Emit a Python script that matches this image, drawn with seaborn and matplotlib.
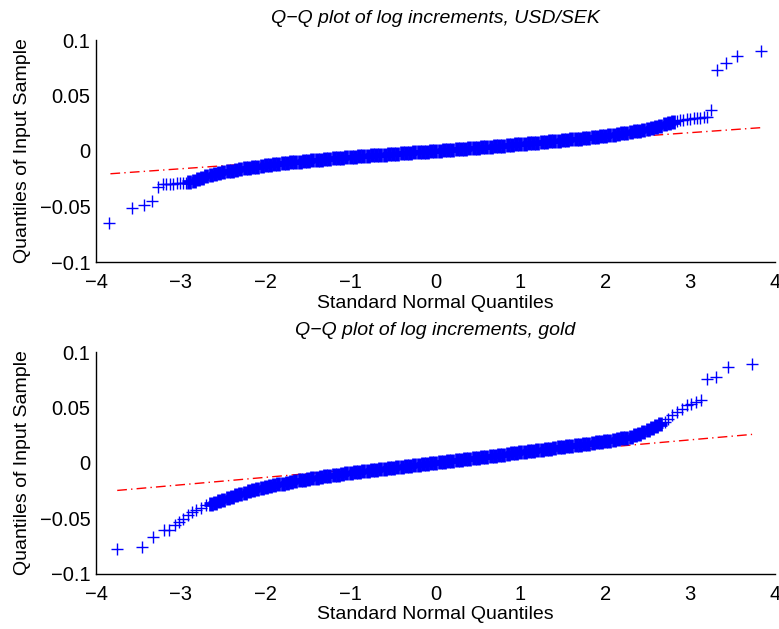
import matplotlib
matplotlib.use("Agg")
import matplotlib.pyplot as plt
import seaborn as sns

# ---------------- data ----------------
# USD/SEK: central dense band of sample quantiles vs. standard normal quantiles
usd_core_x = [-2.90, -2.85, -2.80, -2.75, -2.70, -2.65, -2.60, -2.55, -2.50, -2.45,
              -2.40, -2.35, -2.30, -2.25, -2.20, -2.15, -2.10, -2.05, -2.00, -1.95,
              -1.90, -1.85, -1.80, -1.75, -1.70, -1.65, -1.60, -1.55, -1.50, -1.45,
              -1.40, -1.35, -1.30, -1.25, -1.20, -1.15, -1.10, -1.05, -1.00, -0.95,
              -0.90, -0.85, -0.80, -0.75, -0.70, -0.65, -0.60, -0.55, -0.50, -0.45,
              -0.40, -0.35, -0.30, -0.25, -0.20, -0.15, -0.10, -0.05, 0.00, 0.05,
              0.10, 0.15, 0.20, 0.25, 0.30, 0.35, 0.40, 0.45, 0.50, 0.55,
              0.60, 0.65, 0.70, 0.75, 0.80, 0.85, 0.90, 0.95, 1.00, 1.05,
              1.10, 1.15, 1.20, 1.25, 1.30, 1.35, 1.40, 1.45, 1.50, 1.55,
              1.60, 1.65, 1.70, 1.75, 1.80, 1.85, 1.90, 1.95, 2.00, 2.05,
              2.10, 2.15, 2.20, 2.25, 2.30, 2.35, 2.40, 2.45, 2.50, 2.55,
              2.60, 2.65, 2.70, 2.75, 2.80]
usd_core_y = [-0.0280, -0.0267, -0.0253, -0.0240, -0.0229, -0.0219, -0.0210, -0.0201, -0.0193, -0.0184,
              -0.0176, -0.0169, -0.0162, -0.0156, -0.0150, -0.0145, -0.0140, -0.0134, -0.0128, -0.0123,
              -0.0119, -0.0114, -0.0110, -0.0106, -0.0102, -0.0099, -0.0095, -0.0091, -0.0088, -0.0084,
              -0.0080, -0.0077, -0.0073, -0.0070, -0.0066, -0.0063, -0.0060, -0.0057, -0.0054, -0.0051,
              -0.0049, -0.0046, -0.0043, -0.0040, -0.0037, -0.0035, -0.0032, -0.0029, -0.0027, -0.0024,
              -0.0021, -0.0018, -0.0016, -0.0013, -0.0010, -0.0007, -0.0005, -0.0002, 0.0001, 0.0004,
              0.0007, 0.0009, 0.0012, 0.0015, 0.0018, 0.0021, 0.0024, 0.0027, 0.0030, 0.0033,
              0.0036, 0.0039, 0.0042, 0.0046, 0.0049, 0.0052, 0.0055, 0.0059, 0.0062, 0.0065,
              0.0069, 0.0072, 0.0075, 0.0079, 0.0082, 0.0086, 0.0089, 0.0093, 0.0097, 0.0100,
              0.0104, 0.0108, 0.0112, 0.0116, 0.0120, 0.0124, 0.0129, 0.0133, 0.0138, 0.0143,
              0.0148, 0.0153, 0.0159, 0.0165, 0.0171, 0.0177, 0.0184, 0.0190, 0.0197, 0.0206,
              0.0215, 0.0227, 0.0240, 0.0252, 0.0265]
# USD/SEK: individual points in the tails
usd_tail_x = [-3.85, -3.57, -3.44, -3.34, -3.27, -3.21, -3.17, -3.13, -3.09, -3.05, -3.01, -2.97, -2.94,
              2.84, 2.88, 2.92, 2.96, 3.00, 3.04, 3.08, 3.12, 3.16, 3.20, 3.25, 3.32, 3.42, 3.55, 3.83]
usd_tail_y = [-0.0650, -0.0517, -0.0490, -0.0450, -0.0327, -0.0300, -0.0298, -0.0296, -0.0294, -0.0292,
              -0.0290, -0.0288, -0.0285,
              0.0270, 0.0276, 0.0281, 0.0285, 0.0289, 0.0293, 0.0297, 0.0301, 0.0305, 0.0310, 0.0370,
              0.0730, 0.0790, 0.0860, 0.0900]
# USD/SEK: reference line (through the quartiles)
usd_ref_x = [-3.83, 3.83]
usd_ref_y = [-0.0205, 0.0210]

# Gold: central dense band
gold_core_x = [-2.65, -2.60, -2.55, -2.50, -2.45, -2.40, -2.35, -2.30, -2.25, -2.20,
               -2.15, -2.10, -2.05, -2.00, -1.95, -1.90, -1.85, -1.80, -1.75, -1.70,
               -1.65, -1.60, -1.55, -1.50, -1.45, -1.40, -1.35, -1.30, -1.25, -1.20,
               -1.15, -1.10, -1.05, -1.00, -0.95, -0.90, -0.85, -0.80, -0.75, -0.70,
               -0.65, -0.60, -0.55, -0.50, -0.45, -0.40, -0.35, -0.30, -0.25, -0.20,
               -0.15, -0.10, -0.05, 0.00, 0.05, 0.10, 0.15, 0.20, 0.25, 0.30,
               0.35, 0.40, 0.45, 0.50, 0.55, 0.60, 0.65, 0.70, 0.75, 0.80,
               0.85, 0.90, 0.95, 1.00, 1.05, 1.10, 1.15, 1.20, 1.25, 1.30,
               1.35, 1.40, 1.45, 1.50, 1.55, 1.60, 1.65, 1.70, 1.75, 1.80,
               1.85, 1.90, 1.95, 2.00, 2.05, 2.10, 2.15, 2.20, 2.25, 2.30,
               2.35, 2.40, 2.45, 2.50, 2.55, 2.60, 2.65]
gold_core_y = [-0.0372, -0.0360, -0.0345, -0.0333, -0.0320, -0.0307, -0.0294, -0.0282, -0.0270, -0.0258,
               -0.0248, -0.0238, -0.0229, -0.0220, -0.0212, -0.0204, -0.0196, -0.0188, -0.0181, -0.0174,
               -0.0167, -0.0160, -0.0154, -0.0148, -0.0142, -0.0136, -0.0130, -0.0124, -0.0119, -0.0113,
               -0.0108, -0.0102, -0.0097, -0.0092, -0.0087, -0.0082, -0.0077, -0.0072, -0.0067, -0.0062,
               -0.0058, -0.0053, -0.0048, -0.0044, -0.0039, -0.0035, -0.0030, -0.0026, -0.0021, -0.0017,
               -0.0012, -0.0008, -0.0003, 0.0001, 0.0006, 0.0010, 0.0015, 0.0019, 0.0024, 0.0028,
               0.0033, 0.0037, 0.0042, 0.0046, 0.0051, 0.0055, 0.0060, 0.0065, 0.0069, 0.0074,
               0.0079, 0.0084, 0.0089, 0.0094, 0.0098, 0.0103, 0.0108, 0.0113, 0.0118, 0.0123,
               0.0128, 0.0133, 0.0138, 0.0143, 0.0148, 0.0153, 0.0158, 0.0163, 0.0168, 0.0173,
               0.0178, 0.0183, 0.0188, 0.0193, 0.0199, 0.0205, 0.0212, 0.0219, 0.0227, 0.0236,
               0.0248, 0.0262, 0.0280, 0.0300, 0.0318, 0.0335, 0.0350]
# Gold: individual points in the tails
gold_tail_x = [-3.75, -3.46, -3.33, -3.20, -3.14, -3.07, -3.02, -2.97, -2.92, -2.87, -2.82, -2.76, -2.70,
               2.70, 2.74, 2.79, 2.84, 2.90, 2.96, 3.01, 3.07, 3.13, 3.20, 3.31, 3.45, 3.73]
gold_tail_y = [-0.0783, -0.0762, -0.0670, -0.0610, -0.0605, -0.0566, -0.0536, -0.0506, -0.0476, -0.0446,
               -0.0425, -0.0407, -0.0386,
               0.0367, 0.0397, 0.0427, 0.0457, 0.0488, 0.0518, 0.0533, 0.0547, 0.0563,
               0.0752, 0.0773, 0.0864, 0.0888]
gold_ref_x = [-3.75, 3.73]
gold_ref_y = [-0.0250, 0.0256]

titles = ["Q\u2212Q plot of log increments, USD/SEK", "Q\u2212Q plot of log increments, gold"]
x_label = "Standard Normal Quantiles"
y_label = "Quantiles of Input Sample"
x_ticks = [-4, -3, -2, -1, 0, 1, 2, 3, 4]
x_tick_labels = ["\u22124", "\u22123", "\u22122", "\u22121", "0", "1", "2", "3", "4"]
y_ticks = [-0.1, -0.05, 0, 0.05, 0.1]
y_tick_labels = ["\u22120.1", "\u22120.05", "0", "0.05", "0.1"]

# ---------------- style ----------------
sns.set_theme(style="white")
plt.rcParams['font.family'] = ['Liberation Sans', 'DejaVu Sans']

fig = plt.figure(figsize=(7.79, 6.29), dpi=100)
ax_top = fig.add_axes([96 / 779, 1 - 262 / 629, 679 / 779, 222 / 629])
ax_bot = fig.add_axes([96 / 779, 1 - 573.5 / 629, 679 / 779, 221.5 / 629])

panels = [
    (ax_top, usd_core_x, usd_core_y, usd_tail_x, usd_tail_y, usd_ref_x, usd_ref_y, titles[0]),
    (ax_bot, gold_core_x, gold_core_y, gold_tail_x, gold_tail_y, gold_ref_x, gold_ref_y, titles[1]),
]

for ax, cx, cy, tx, ty, rx, ry, title in panels:
    sns.lineplot(x=rx, y=ry, ax=ax, color="red", linewidth=1.0,
                 linestyle=(0, (7, 3, 1, 3)), zorder=1)
    sns.scatterplot(x=cx, y=cy, ax=ax, marker="+", s=100, color="blue", zorder=3)
    ax.collections[-1].set_linewidth(3.4)
    sns.scatterplot(x=tx, y=ty, ax=ax, marker="+", s=70, color="blue", zorder=3)
    ax.collections[-1].set_linewidth(1.0)
    ax.set_xlim(-4, 4)
    ax.set_ylim(-0.1, 0.1)
    ax.set_xticks(x_ticks)
    ax.set_xticklabels(x_tick_labels)
    ax.set_yticks(y_ticks)
    ax.set_yticklabels(y_tick_labels)
    ax.tick_params(axis="both", direction="in", length=4, width=1,
                   color="black", labelsize=14.5, labelcolor="black")
    ax.tick_params(axis="x", pad=8)
    ax.tick_params(axis="y", pad=4)
    sns.despine(ax=ax)
    for side in ("left", "bottom"):
        ax.spines[side].set_color("black")
        ax.spines[side].set_linewidth(1.0)
    ax.set_xlabel(x_label, fontsize=14, labelpad=2, color="black")
    ax.set_ylabel(y_label, fontsize=14, labelpad=6, color="black")
    ax.set_title(title, fontsize=14, style="italic", pad=12, color="black")
    ax.grid(False)

fig.savefig("out.png", dpi=100)
